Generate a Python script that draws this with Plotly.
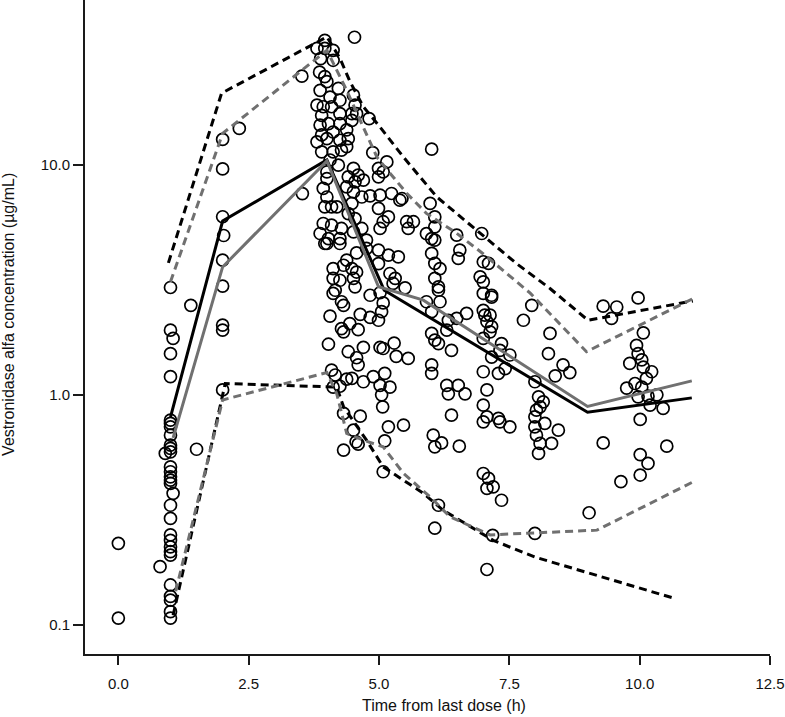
import plotly.graph_objects as go

# observed concentrations (time after dose in h, concentration in ug/mL)
obs_time = [
    0.0, 0.0,
    1.0, 1.0, 1.0, 1.0, 1.05, 1.39,
    1.0, 1.0, 1.0, 1.0, 1.0, 1.0,
    1.0, 0.9, 1.0, 1.0, 1.0, 1.0,
    1.0, 1.05, 1.0, 1.0, 1.0, 1.0,
    1.0, 1.0, 1.0, 1.0, 1.0, 1.0,
    1.0, 1.0, 0.8, 1.5,
    2.0, 2.0, 2.0, 2.02, 2.0, 2.0, 2.0, 2.0, 2.0, 2.32, 3.52, 3.53, 4.53,
    # peak cluster
    3.96, 3.81, 3.96, 4.12, 3.88, 4.12, 3.86, 3.96, 4.00, 4.22,
    3.87, 4.51, 4.06, 4.25, 3.81, 3.93, 4.54, 4.09, 3.90, 4.25,
    4.48, 4.57, 4.81, 3.87, 4.03, 4.25, 4.48, 4.12, 4.38, 3.90,
    3.81, 4.25, 4.41, 4.00, 3.90, 4.12, 4.28, 4.38, 4.88, 5.15,
    4.99, 5.08, 4.99, 4.06, 4.22, 4.00, 4.00, 4.51, 4.41, 4.60,
    4.70, 4.54, 4.38, 3.93, 4.00, 4.51, 4.67, 4.83, 5.02, 5.24,
    5.44, 4.48, 3.96, 4.09, 4.19, 4.41, 4.54, 4.99, 5.18, 5.08,
    5.02, 3.93, 4.09, 3.87, 4.28, 4.25, 4.03, 3.96, 4.51, 4.67,
    4.76, 5.53,
    # 4-5.5 h, lower part
    4.00, 4.25, 4.57, 4.76, 4.99, 5.18, 5.37, 4.38, 4.12, 4.32,
    4.48, 4.57, 4.99, 5.21, 5.31, 4.12, 4.25, 4.51, 4.54, 5.27,
    5.50, 4.16, 4.12, 4.83, 5.02, 5.08, 4.28, 4.32, 5.05, 4.64,
    4.83, 4.99, 4.06, 4.28, 4.32, 4.44, 4.60, 4.03, 4.41, 4.70,
    4.57, 4.60, 5.02, 5.08, 5.29, 5.33, 5.56, 4.09, 4.16, 4.12,
    4.25, 4.38, 4.48, 4.70, 4.89, 5.02, 5.11, 5.21, 5.05, 5.07,
    4.32, 4.64, 4.51, 4.56, 4.60, 4.32, 5.18, 5.11, 5.47, 5.08,
    # 6-7.5 h
    6.01, 5.98, 6.07, 6.07, 5.91, 6.01, 6.07, 6.01, 6.07, 6.17,
    6.07, 6.14, 6.14, 5.66, 5.56, 5.40, 6.49, 6.55, 6.52, 6.97,
    7.00, 7.10, 6.94, 7.00, 7.16, 6.17, 5.91, 6.01, 6.01, 6.07,
    6.14, 6.30, 6.33, 6.49, 6.68, 6.39, 6.01, 6.01, 6.30, 6.33,
    6.52, 6.65, 6.39, 6.04, 6.07, 6.20, 6.54, 6.14, 6.07, 7.00,
    7.16, 7.00, 7.03, 7.13, 7.07, 7.16, 7.13, 7.00, 7.35, 7.32,
    7.51, 7.16, 7.00, 7.29, 7.42, 7.07, 7.00, 7.00, 7.07, 7.29,
    7.32, 7.51, 7.00, 7.10, 7.07, 7.19, 7.35, 7.18, 7.07,
    # 8-10.5 h
    7.77, 7.93, 7.99, 8.06, 8.15, 8.02, 7.99, 8.18, 7.99, 8.02,
    8.09, 8.06, 7.99, 8.28, 8.25, 8.53, 8.66, 8.38, 8.31, 8.44,
    8.09, 9.30, 9.56, 9.46, 9.97, 10.07, 9.94, 9.97, 9.81, 10.04,
    10.07, 10.23, 10.13, 9.91, 9.75, 10.04, 9.97, 10.16, 10.33, 10.20,
    10.45, 10.01, 9.30, 10.52, 10.01, 10.16, 10.01, 9.64, 9.03,
]
obs_conc = [
    0.226, 0.107,
    2.93, 1.91, 1.51, 1.20, 1.76, 2.45,
    0.776, 0.751, 0.726, 0.668, 0.604, 0.585,
    0.565, 0.556, 0.486, 0.463, 0.440, 0.426,
    0.412, 0.373, 0.331, 0.290, 0.246, 0.233,
    0.218, 0.208, 0.201, 0.149, 0.133, 0.128,
    0.114, 0.107, 0.179, 0.58,
    12.9, 9.6, 5.95, 4.93, 3.85, 2.97, 2.01, 1.91, 1.05, 14.4, 24.3, 7.5, 35.9,
    # peak cluster
    34.8, 32.1, 32.1, 31.5, 29.0, 28.5, 25.3, 24.2, 23.0, 21.5,
    21.1, 20.1, 19.7, 19.1, 18.2, 17.9, 18.2, 17.9, 16.4, 16.7,
    16.7, 16.7, 15.9, 14.9, 15.1, 15.1, 15.6, 13.9, 14.2, 13.5,
    12.6, 12.8, 13.0, 13.0, 11.4, 11.4, 11.6, 12.0, 11.3, 10.3,
    9.66, 9.32, 8.87, 10.5, 9.97, 9.32, 8.72, 9.66, 8.87, 9.02,
    8.58, 8.44, 8.03, 7.90, 7.25, 7.63, 7.25, 7.33, 7.38, 7.51,
    7.14, 6.80, 6.57, 6.57, 6.57, 6.14, 5.84, 6.47, 5.94, 5.66,
    5.29, 5.56, 5.47, 5.03, 5.29, 4.78, 4.78, 4.55, 5.11, 5.29,
    4.71, 5.66,
    # 4-5.5 h, lower part
    4.55, 4.55, 4.14, 4.33, 4.26, 4.05, 3.98, 3.85, 3.54, 3.66,
    3.54, 3.42, 3.72, 3.37, 3.21, 3.21, 3.15, 3.21, 2.95, 3.05,
    2.92, 2.85, 2.76, 2.71, 2.78, 2.51, 2.54, 2.45, 2.30, 2.24,
    2.17, 2.11, 2.20, 1.94, 1.88, 2.04, 1.92, 1.66, 1.54, 1.61,
    1.45, 1.35, 1.61, 1.59, 1.68, 1.47, 1.44, 1.28, 1.22, 1.08,
    1.09, 1.17, 1.18, 1.14, 1.20, 1.10, 1.24, 1.08, 1.00, 0.887,
    0.83, 0.808, 0.702, 0.625, 0.61, 0.575, 0.726, 0.631, 0.738, 0.463,
    # 6-7.5 h
    11.7, 6.80, 5.94, 5.38, 5.02, 4.78, 4.71, 4.12, 3.73, 3.54,
    3.21, 2.95, 2.85, 5.66, 5.29, 7.02, 4.95, 4.26, 3.92, 5.03,
    3.79, 3.73, 3.26, 3.10, 2.71, 2.54, 2.54, 2.30, 1.85, 1.73,
    1.67, 1.91, 2.11, 2.15, 2.26, 1.56, 1.35, 1.24, 1.10, 1.01,
    1.10, 1.01, 0.816, 0.668, 0.594, 0.618, 0.598, 0.331, 0.263, 2.76,
    2.66, 2.33, 2.22, 2.22, 2.08, 1.98, 1.88, 1.76, 1.67, 1.56,
    1.49, 1.46, 1.26, 1.24, 1.30, 1.05, 0.902, 0.763, 0.802, 0.79,
    0.763, 0.726, 0.455, 0.433, 0.392, 0.398, 0.348, 0.245, 0.174,
    # 8-10.5 h
    2.11, 2.45, 1.14, 0.98, 0.932, 0.858, 0.802, 0.751, 0.726, 0.668,
    0.615, 0.556, 0.25, 1.85, 1.51, 1.35, 1.25, 1.21, 0.615, 0.702,
    0.887, 2.43, 2.41, 2.15, 2.64, 1.86, 1.64, 1.51, 1.37, 1.42,
    1.32, 1.26, 1.18, 1.12, 1.07, 1.08, 0.98, 0.987, 1.00, 0.902,
    0.873, 0.782, 0.618, 0.598, 0.55, 0.503, 0.448, 0.419, 0.307,
]

# observed median and 5th/95th percentiles (black)
obs_med_t = [1.0, 2.0, 4.0, 5.1, 9.0, 11.0]
obs_med_c = [0.80, 5.7, 10.5, 2.85, 0.84, 0.97]
obs_hi_t = [0.96, 1.98, 4.0, 4.25, 4.44, 4.70, 5.02, 5.47, 6.11, 6.94, 7.64, 8.28, 9.01, 11.02]
obs_hi_c = [3.75, 20.5, 36.0, 29.1, 23.1, 17.9, 14.6, 10.8, 7.25, 5.03, 3.72, 2.90, 2.11, 2.56]
obs_lo_t = [1.05, 2.05, 4.19, 4.32, 4.76, 5.08, 5.85, 6.23, 7.19, 7.99, 10.68]
obs_lo_c = [0.11, 1.12, 1.08, 0.887, 0.635, 0.486, 0.373, 0.315, 0.233, 0.197, 0.130]

# model predicted median and 5th/95th percentiles (grey)
pred_med_t = [1.05, 2.0, 4.0, 4.99, 5.85, 9.0, 11.0]
pred_med_c = [0.65, 3.6, 10.4, 2.95, 2.58, 0.89, 1.15]
pred_hi_t = [1.0, 2.0, 4.0, 4.16, 4.38, 4.64, 4.96, 5.21, 5.53, 5.91, 6.49, 6.99, 7.90, 8.98, 11.02]
pred_hi_c = [3.1, 13.7, 31.5, 26.7, 21.1, 15.6, 10.8, 9.2, 7.53, 6.15, 5.04, 4.12, 2.77, 1.54, 2.62]
pred_lo_t = [1.1, 2.0, 4.0, 4.19, 4.38, 4.70, 5.08, 5.47, 5.98, 6.36, 7.13, 9.18, 11.03]
pred_lo_c = [0.14, 0.95, 1.25, 1.01, 0.68, 0.635, 0.594, 0.455, 0.360, 0.295, 0.246, 0.258, 0.419]

x_ticks = [0, 2.5, 5, 7.5, 10, 12.5]
x_labels = ['0.0', '2.5', '5.0', '7.5', '10.0', '12.5']
y_ticks = [0.1, 1, 10]
y_labels = ['0.1', '1.0', '10.0']

BLACK = '#000000'
GREY = '#707070'
DASH = '8px,5px'

fig = go.Figure()

fig.add_trace(go.Scatter(
    x=obs_time, y=obs_conc, mode='markers',
    marker=dict(symbol='circle-open', size=12, color=BLACK, line=dict(width=1.7, color=BLACK)),
    name='Observed', showlegend=False
))

# percentile lines
for t, c, col in [(obs_hi_t, obs_hi_c, BLACK), (obs_lo_t, obs_lo_c, BLACK),
                  (pred_hi_t, pred_hi_c, GREY), (pred_lo_t, pred_lo_c, GREY)]:
    fig.add_trace(go.Scatter(x=t, y=c, mode='lines', line=dict(color=col, width=3, dash=DASH),
                             showlegend=False))

fig.add_trace(go.Scatter(x=obs_med_t, y=obs_med_c, mode='lines',
                         line=dict(color=BLACK, width=3), showlegend=False))
fig.add_trace(go.Scatter(x=pred_med_t, y=pred_med_c, mode='lines',
                         line=dict(color=GREY, width=3), showlegend=False))

axis_font = dict(family='Liberation Sans, Arial, sans-serif', size=15, color='#111111')

fig.update_layout(
    width=785, height=717,
    margin=dict(l=85, r=15, t=0, b=63),
    plot_bgcolor='white', paper_bgcolor='white',
    font=axis_font,
    xaxis=dict(
        range=[-0.64, 12.5], tickvals=x_ticks, ticktext=x_labels,
        showgrid=False, zeroline=False, showline=True, linecolor='#1a1a1a', linewidth=2,
        ticks='outside', ticklen=9, tickwidth=2, tickcolor='#1a1a1a',
        ticklabelstandoff=6,
    ),
    yaxis=dict(
        type='log', range=[-1.127, 1.717], tickvals=y_ticks, ticktext=y_labels,
        showgrid=False, zeroline=False, showline=True, linecolor='#1a1a1a', linewidth=2,
        ticks='outside', ticklen=10, tickwidth=2, tickcolor='#1a1a1a',
    ),
    annotations=[
        dict(text='Time from last dose (h)', xref='paper', yref='paper',
             x=0.524, y=-0.0795, xanchor='center', yanchor='middle', showarrow=False,
             font=dict(size=16)),
        dict(text='Vestronidase alfa concentration (µg/mL)', xref='paper', yref='paper',
             x=-0.111, y=0.52, xanchor='center', yanchor='middle', showarrow=False,
             textangle=-90, font=dict(size=16)),
    ],
)

# page body has a default margin; drop it so the figure fills the window
fig.write_html('out.html', config={'displayModeBar': False},
               post_script="document.body.style.margin='0px';")
